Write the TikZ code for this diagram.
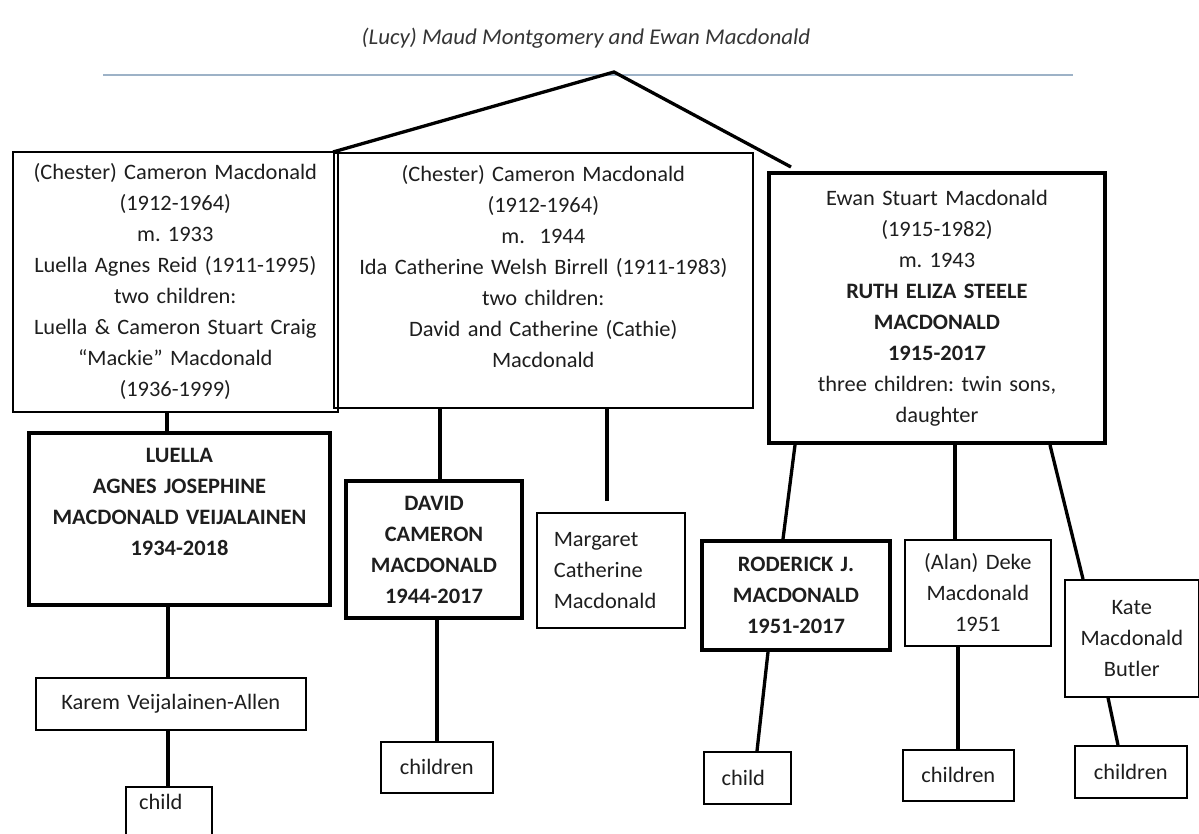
\documentclass[tikz,border=0pt]{standalone}
\usepackage{fontspec}
\usetikzlibrary{calc}
\setmainfont{Carlito}[FakeStretch=1.02]
\definecolor{ink}{HTML}{1E1E1E}
\definecolor{rulecol}{HTML}{9DB2C7}
\frenchspacing
\begin{document}
\begin{tikzpicture}[x=1pt,y=-1pt,
  every node/.style={text=ink},
  bodytext/.style={font=\fontsize{22}{31}\selectfont},
  pbox/.style={draw=black, line width=1.6pt, inner sep=0pt, align=center, anchor=north west, bodytext},
  bbox/.style={pbox, line width=4pt},
  conn/.style={draw=black, line width=3.3pt}]
\useasboundingbox (0,0) rectangle (1199,834);
\clip (0,0) rectangle (1199,834);
\fill[white] (0,0) rectangle (1199,834);

% title and rule
\node[font=\fontsize{22.5}{24}\selectfont\itshape, text=ink!90] (title) at (586,38) {(Lucy) Maud Montgomery and Ewan Macdonald};
\coordinate (ruleL) at (103,75);
\coordinate (ruleR) at (1073,75);
\draw[rulecol, line width=2pt] (ruleL) -- (ruleR);
\coordinate (apex) at (614,72);
\coordinate (rtend) at (791,167);

% generation 1
\node[pbox, minimum width=325, minimum height=260, text width=325] (L1) at (12,151)
 {(Chester) Cameron Macdonald\\(1912-1964)\\m. 1933\\Luella Agnes Reid (1911-1995)\\two children:\\Luella \& Cameron Stuart Craig\\“Mackie” Macdonald\\(1936-1999)};
\node[pbox, minimum width=419, minimum height=255, text width=419] (M1) at (333,152)
 {(Chester) Cameron Macdonald\\(1912-1964)\\m.\ \ 1944\\Ida Catherine Welsh Birrell (1911-1983)\\two children:\\David and Catherine (Cathie)\\Macdonald\\[-4pt]\mbox{}};
\node[bbox, minimum width=336, minimum height=270, text width=336] (R1) at (767,171)
 {Ewan Stuart Macdonald\\(1915-1982)\\m. 1943\\\textbf{RUTH ELIZA STEELE}\\\textbf{MACDONALD}\\\textbf{1915-2017}\\three children: twin sons,\\daughter};

% generation 2
\node[bbox, minimum width=301, minimum height=172, text width=301, font=\fontsize{22}{31}\selectfont\bfseries] (L2) at (27,431)
 {LUELLA\\AGNES JOSEPHINE\\MACDONALD VEIJALAINEN\\1934-2018\\[3pt]\mbox{}};
\node[pbox, minimum width=270, minimum height=52, text width=270] (Karem) at (35,677) {Karem Veijalainen-Allen};
\node[pbox, minimum width=86, minimum height=60, text width=86] (child1) at (125,786) {\hspace*{-16pt}child\\[-2pt]\mbox{}};

\node[bbox, minimum width=176, minimum height=137, text width=176, font=\fontsize{22}{31}\selectfont\bfseries] (David) at (344,479)
 {DAVID\\CAMERON\\MACDONALD\\1944-2017};
\node[pbox, minimum width=112, minimum height=51, text width=112] (ch2) at (380,741) {children};
\node[pbox, minimum width=148, minimum height=115, text width=114, inner xsep=17pt, align=left] (Marg) at (536,512)
 {Margaret\\Catherine\\Macdonald};

\node[bbox, minimum width=188, minimum height=109, text width=188, font=\fontsize{22}{31}\selectfont\bfseries] (Rod) at (700,539)
 {RODERICK J.\\MACDONALD\\1951-2017};
\node[pbox, minimum width=87, minimum height=52, text width=87] (child3) at (703,751) {\hspace*{-8pt}child};
\node[pbox, minimum width=146, minimum height=106, text width=146] (Deke) at (904,539)
 {(Alan) Deke\\Macdonald\\1951};
\node[pbox, minimum width=111, minimum height=51, text width=111] (ch4) at (902,749) {children};
\node[pbox, minimum width=134, minimum height=117, text width=134] (Kate) at (1064,579)
 {Kate\\Macdonald\\Butler};
\node[pbox, minimum width=112, minimum height=52, text width=112] (ch5) at (1074,745) {children};

% connectors
\draw[conn] (M1.north west) -- (apex) -- (rtend);
\draw[conn] (L1.south -| 167,0) -- (L2.north -| 167,0);
\draw[conn] (L2.south -| 168,0) -- (Karem.north -| 168,0);
\draw[conn] (Karem.south -| 168,0) -- (child1.north -| 168,0);
\draw[conn] (M1.south -| 440,0) -- (David.north -| 440,0);
\draw[conn] (David.south -| 437,0) -- (ch2.north -| 437,0);
\draw[conn] (M1.south -| 607,0) -- ($(Marg.north -| 607,0)+(0,-11)$);
\draw[conn] (R1.south -| 795,0) -- (Rod.north -| 783,0);
\draw[conn] (Rod.south -| 768,0) -- (child3.north -| 757,0);
\draw[conn] (R1.south -| 955,0) -- (Deke.north -| 955,0);
\draw[conn] (Deke.south -| 958,0) -- (ch4.north -| 958,0);
\draw[conn] (R1.south -| 1050,0) -- (Kate.north -| 1083,0);
\draw[conn] (Kate.south -| 1108,0) -- (ch5.north -| 1118,0);
\end{tikzpicture}
\end{document}
